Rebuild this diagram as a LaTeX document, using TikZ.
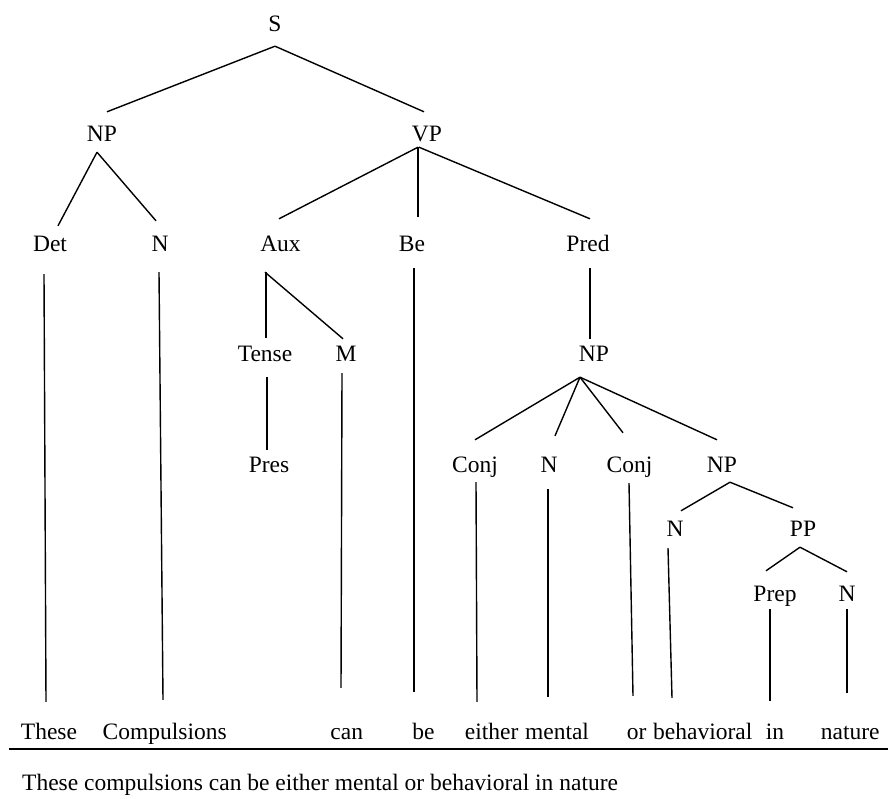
\documentclass[tikz,border=0pt]{standalone}
\usepackage{fontspec}
\setmainfont{Liberation Serif}
\begin{document}
\begin{tikzpicture}[x=1pt, y=-1pt,
  cat/.style={anchor=base, inner sep=0pt, text height=15pt, text depth=0pt,
              font=\fontsize{23.5}{28}\selectfont},
  word/.style={cat},
  branch/.style={line width=1.4pt},
  rule/.style={line width=2pt}]
\useasboundingbox (0,0) rectangle (888,799);

% categories
\node[cat] (S)    at (275,32)  {S};
\node[cat] (NP)   at (102,142) {NP};
\node[cat] (VP)   at (427,142) {VP};
\node[cat] (Det)  at (50,252)  {Det};
\node[cat] (N)    at (160,252) {N};
\node[cat] (Aux)  at (280.5,252) {Aux};
\node[cat] (Be)   at (412,252) {Be};
\node[cat] (Pred) at (588,252) {Pred};
\node[cat] (Tense) at (265,361) {Tense};
\node[cat] (M)    at (346,361) {M};
\node[cat] (Pres) at (269,472) {Pres};
\node[cat] (NPa)  at (594,361) {NP};
\node[cat] (Conja) at (475,472) {Conj};
\node[cat] (Na)   at (549,472) {N};
\node[cat] (Conjb) at (629.5,472) {Conj};
\node[cat] (NPb)  at (722,472) {NP};
\node[cat] (Nb)   at (675,536) {N};
\node[cat] (PP)   at (803,536) {PP};
\node[cat] (Prep) at (775,601) {Prep};
\node[cat] (Nc)   at (847,601) {N};

% words
\node[word] (w1)  at (49,739)    {These};
\node[word] (w2)  at (164.7,739) {Compulsions};
\node[word] (w3)  at (346.7,739) {can};
\node[word] (w4)  at (423.5,739) {be};
\node[word] (w5)  at (491.7,739) {either};
\node[word] (w6)  at (557,739)   {mental};
\node[word] (w7)  at (636.7,739) {or};
\node[word] (w8)  at (702.8,739) {behavioral};
\node[word] (w9)  at (775,739)   {in};
\node[word] (w10) at (850.3,739) {nature};

% sentence under the rule
\node[cat, anchor=base west] (sent) at (22,790)
  {These compulsions can be either mental or behavioral in nature};
\coordinate (ruleL) at (9,749);
\coordinate (ruleR) at (888,749);
\draw[rule] (ruleL) -- (ruleR);

% branches
\draw[branch] ([shift={(0,14)}]S.south) -- ([shift={(5,-15)}]NP.north);
\draw[branch] ([shift={(0,14)}]S.south) -- ([shift={(-3,-15)}]VP.north);

\draw[branch] ([shift={(-5,10)}]NP.south) -- ([shift={(8,-11)}]Det.north);
\draw[branch] ([shift={(-5,10)}]NP.south) -- ([shift={(-4,-16)}]N.north);

\draw[branch] ([shift={(-9,5)}]VP.south) -- ([shift={(-1.5,-18)}]Aux.north);
\draw[branch] ([shift={(-9,5)}]VP.south) -- ([shift={(6,-20)}]Be.north);
\draw[branch] ([shift={(-8,5)}]VP.south) -- ([shift={(2,-18)}]Pred.north);

\draw[branch] ([shift={(-6,22)}]Det.south) -- ([shift={(-3,-22)}]w1.north);
\draw[branch] ([shift={(-1,20)}]N.south) -- ([shift={(-1.7,-24)}]w2.north);

\draw[branch] ([shift={(-14.5,20)}]Aux.south) -- ([shift={(1,-8)}]Tense.north);
\draw[branch] ([shift={(-15.5,20)}]Aux.south) -- ([shift={(-3,-7)}]M.north);
\draw[branch] ([shift={(2,16)}]Tense.south) -- ([shift={(-2,-7)}]Pres.north);
\draw[branch] ([shift={(-4,12)}]M.south) -- ([shift={(-5.7,-36)}]w3.north);

\draw[branch] ([shift={(2,16)}]Be.south) -- ([shift={(-9.5,-32)}]w4.north);

\draw[branch] ([shift={(2,16)}]Pred.south) -- ([shift={(-4,-7)}]NPa.north);

\draw[branch] ([shift={(-14,16)}]NPa.south) -- ([shift={(0,-17)}]Conja.north);
\draw[branch] ([shift={(-14,16)}]NPa.south) -- ([shift={(6,-21)}]Na.north);
\draw[branch] ([shift={(-14,16)}]NPa.south) -- ([shift={(-6.5,-24)}]Conjb.north);
\draw[branch] ([shift={(-14,16)}]NPa.south) -- ([shift={(-5,-17)}]NPb.north);

\draw[branch] ([shift={(1,10)}]Conja.south) -- ([shift={(-14.7,-22)}]w5.north);
\draw[branch] ([shift={(-1,17)}]Na.south) -- ([shift={(-9,-27)}]w6.north);
\draw[branch] ([shift={(-0.5,11)}]Conjb.south) -- ([shift={(-3.7,-28)}]w7.north);

\draw[branch] ([shift={(8,10)}]NPb.south) -- ([shift={(6,-10)}]Nb.north);
\draw[branch] ([shift={(8,10)}]NPb.south) -- ([shift={(-10,-13)}]PP.north);
\draw[branch] ([shift={(-7,12)}]Nb.south) -- ([shift={(-30.8,-26)}]w8.north);

\draw[branch] ([shift={(-3,11)}]PP.south) -- ([shift={(-9,-15)}]Prep.north);
\draw[branch] ([shift={(-3,11)}]PP.south) -- ([shift={(0,-14)}]Nc.north);
\draw[branch] ([shift={(-5,8)}]Prep.south) -- ([shift={(-5,-23)}]w9.north);
\draw[branch] ([shift={(0,8)}]Nc.south) -- ([shift={(-3.3,-31)}]w10.north);
\end{tikzpicture}
\end{document}
